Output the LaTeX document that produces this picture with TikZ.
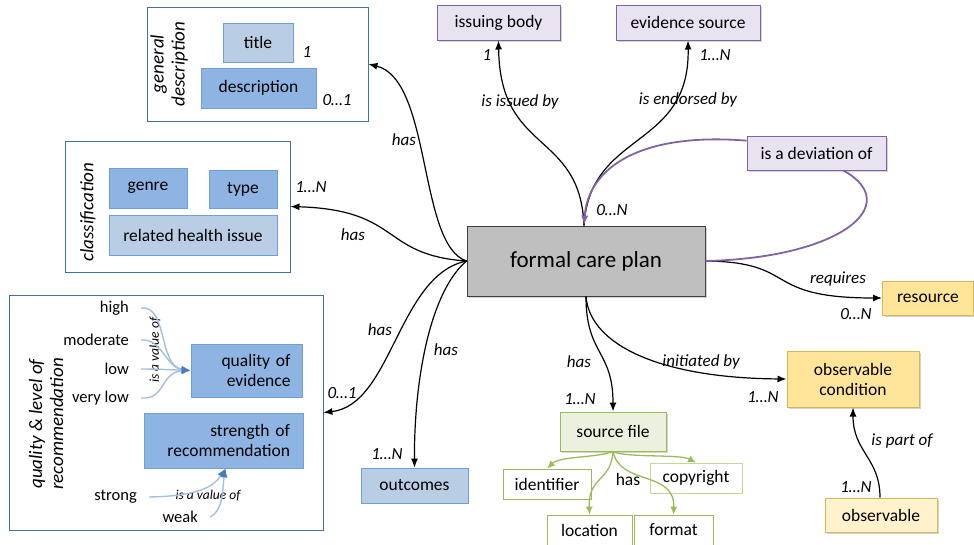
\documentclass[tikz,border=0pt]{standalone}
\usepackage{fontspec}
\setmainfont{Carlito}
\usetikzlibrary{arrows.meta,shadows}

\definecolor{grpline}{HTML}{41719C}
\definecolor{itemline}{HTML}{6F9FD8}
\definecolor{itemdark}{HTML}{8EB4E3}
\definecolor{itemlite}{HTML}{B9CDE5}
\definecolor{planfill}{HTML}{BFBFBF}
\definecolor{planline}{HTML}{3F3F3F}
\definecolor{lilacfill}{HTML}{E9E3F1}
\definecolor{lilacline}{HTML}{8064A2}
\definecolor{goldfill}{HTML}{FFE59A}
\definecolor{goldline}{HTML}{D6B656}
\definecolor{creamfill}{HTML}{FFF2CC}
\definecolor{greenfill}{HTML}{EBF1DE}
\definecolor{greenline}{HTML}{9BBB59}
\definecolor{palegreen}{HTML}{C3D69B}
\definecolor{valueline}{HTML}{A6BFDF}
\definecolor{valuetip}{HTML}{4A7EBB}

\tikzset{
    shade box/.style={drop shadow={opacity=0.35, shadow xshift=2pt, shadow yshift=-2pt}},
    grp/.style={draw=grpline, line width=0.9pt, fill=white, inner sep=0pt},
    grptitle/.style={font=\fontsize{19}{21}\selectfont\itshape, rotate=90, align=center},
    item/.style={draw=itemline, fill=itemdark, line width=0.8pt, inner sep=0pt,
        font=\fontsize{17.5}{20}\selectfont},
    liteitem/.style={item, fill=itemlite},
    plan/.style={draw=planline, fill=planfill, line width=1pt, shade box, inner sep=0pt,
        font=\fontsize{23}{27}\selectfont},
    lilac/.style={draw=lilacline, fill=lilacfill, line width=1pt, shade box, inner sep=0pt,
        font=\fontsize{17.5}{20}\selectfont},
    gold/.style={draw=goldline, fill=goldfill, line width=1pt, shade box, inner sep=0pt,
        align=center, font=\fontsize{17.5}{20}\selectfont},
    cream/.style={gold, fill=creamfill},
    green/.style={draw=greenline, fill=greenfill, line width=1pt, shade box, inner sep=0pt,
        font=\fontsize{17.5}{20}\selectfont},
    greenitem/.style={draw=greenline, fill=white, line width=0.8pt, inner sep=0pt,
        font=\fontsize{17.5}{20}\selectfont},
    value/.style={anchor=east, inner sep=0pt, font=\fontsize{16.5}{19}\selectfont},
    lbl/.style={inner sep=0pt, font=\fontsize{17}{20}\selectfont\itshape},
    rel/.style={draw=black, line width=1.2pt, -{Latex[length=9pt,width=7pt]}},
    devrel/.style={draw=lilacline, line width=1.8pt},
    valrel/.style={draw=valueline, line width=1.4pt, -{Latex[length=9pt,width=7pt,color=valuetip]}},
    filerel/.style={draw=greenline, line width=1.3pt, -{Latex[length=8pt,width=7pt]}}
}

\begin{document}
\begin{tikzpicture}[x=1pt, y=-1pt]
    \useasboundingbox (0,0) rectangle (974,544);

    % general description
    \node [grp, minimum width=221, minimum height=114] (gd) at (257.5,64) {};
    \node [grptitle] (gdtitle) at (169,64) {general\\description};
    \node [liteitem, minimum width=70, minimum height=39] (title) at (258,42.5) {title};
    \node [item, minimum width=115, minimum height=40] (desc) at (258.5,88) {description};
    \node [lbl] (titlem) at (307,52) {1};
    \node [lbl] (descm) at (337,100) {0…1};

    % classification
    \node [grp, minimum width=225, minimum height=131] (cls) at (177.5,206.5) {};
    \node [grptitle] (clstitle) at (88,212) {classification};
    \node [item, minimum width=78, minimum height=40] (genre) at (148,188) {genre};
    \node [item, minimum width=68, minimum height=38] (type) at (243,189) {type};
    \node [liteitem, minimum width=168, minimum height=40] (issue) at (193,235) {related health issue};

    % quality & level of recommendation
    \node [grp, minimum width=314, minimum height=235] (qual) at (166,412.5) {};
    \node [grptitle] (qualtitle) at (46,424) {quality \& level of\\recommendation};
    \node [item, minimum width=111, minimum height=53, align=right, text width=88]
        (qoe) at (246.5,370.5) {quality of\\evidence};
    \node [item, minimum width=159, minimum height=55, align=right, text width=133]
        (sor) at (223.5,440.5) {strength of\\recommendation};
    \node [value] (high) at (129,308) {high};
    \node [value] (moderate) at (129,340) {moderate};
    \node [value] (low) at (129,369) {low};
    \node [value] (verylow) at (129,398) {very low};
    \node [value] (strong) at (137,497) {strong};
    \node [value] (weak) at (198,517) {weak};
    \node [lbl, rotate=90, font=\fontsize{13.5}{15}\selectfont\itshape] (valof1) at (155,350) {is a value of};
    \node [lbl, font=\fontsize{13.5}{15}\selectfont\itshape] (valof2) at (208,496) {is a value of};

    \draw [valrel] ([xshift=12pt]high.east) .. controls (168,305) and (158,366) .. (qoe.west);
    \draw [valrel] ([xshift=12pt]moderate.east) .. controls (162,338) and (166,368) .. (qoe.west);
    \draw [valrel] ([xshift=12pt]low.east) .. controls (160,369) and (175,370) .. (qoe.west);
    \draw [valrel] ([xshift=12pt]verylow.east) .. controls (166,400) and (160,372) .. (qoe.west);
    \draw [valrel] ([xshift=12pt]strong.east) .. controls (200,496) and (214,486) .. ([xshift=2pt]sor.south);
    \draw [valrel] ([xshift=12pt]weak.east) .. controls (224,510) and (222,490) .. ([xshift=2pt]sor.south);

    % formal care plan
    \node [plan, minimum width=238, minimum height=70] (cp) at (586,261) {formal care plan};

    % issuers
    \node [lilac, minimum width=123, minimum height=35] (ib) at (498.5,22.5) {issuing body};
    \node [lilac, minimum width=144, minimum height=35] (es) at (688,22.5) {evidence source};
    \node [lilac, minimum width=139, minimum height=34] (dev) at (816.5,153) {is a deviation of};

    % conditions and resources
    \node [gold, minimum width=91, minimum height=34] (res) at (928,298) {resource};
    \node [gold, minimum width=132, minimum height=56] (oc) at (853,379) {observable\\condition};
    \node [cream, minimum width=112, minimum height=34] (obs) at (881,515) {observable};

    % source file
    \node [green, minimum width=106, minimum height=39] (sf) at (613,431.5) {source file};
    \node [greenitem, minimum width=88, minimum height=30] (idn) at (547,484) {identifier};
    \node [greenitem, draw=palegreen, minimum width=92, minimum height=30] (cpy) at (696,478) {copyright};
    \node [greenitem, minimum width=85, minimum height=30] (loc) at (589.5,530) {location};
    \node [greenitem, minimum width=79, minimum height=30] (fmt) at (673.5,530) {format};
    \node [inner sep=0pt, font=\fontsize{17.5}{20}\selectfont] (fhas) at (628,479) {has};

    \draw [filerel] (sf.south) .. controls (596,458) and (560,456) .. (idn.north);
    \draw [filerel] (sf.south) .. controls (626,458) and (680,454) .. (cpy.north);
    \draw [filerel] (sf.south) .. controls (611,482) and (588,476) .. (loc.north);
    \draw [filerel] (sf.south) .. controls (620,486) and (675,470) .. (fmt.north);

    % outcomes
    \node [liteitem, minimum width=107, minimum height=35] (out) at (414.5,485.5) {outcomes};

    % relations of the care plan
    \draw [rel] (cp.west) .. controls (418,245) and (432,80) .. (gd.east);
    \draw [rel] (cp.west) .. controls (380,255) and (402,210) .. (cls.east);
    \draw [rel] (cp.west) .. controls (398,275) and (392,405) .. (qual.east);
    \draw [rel] (cp.west) .. controls (430,292) and (414,380) .. (out.north);
    \draw [rel] ([xshift=-2pt]cp.north) .. controls (580,130) and (500,155) .. (ib.south);
    \draw [rel] ([xshift=-2pt]cp.north) .. controls (590,130) and (690,150) .. (es.south);
    \draw [rel] (cp.east) .. controls (800,262) and (760,298) .. (res.west);
    \draw [rel] (cp.south) .. controls (590,345) and (660,378) .. (oc.west);
    \draw [rel] (cp.south) .. controls (586,355) and (613,350) .. (sf.north);
    \draw [rel] ([xshift=-1pt]obs.north) .. controls (880,458) and (853,452) .. (oc.south);

    % deviation loop
    \draw [devrel] (cp.east) .. controls (840,258) and (905,205) .. ([xshift=27pt]dev.south);
    \draw [devrel, -{Latex[length=10pt,width=7pt]}] (dev.170) .. controls (640,132) and (588,168) .. ([xshift=-2pt]cp.north);

    % relation labels
    \node [lbl] (hasgd) at (404,140) {has};
    \node [lbl] (hascls) at (353,235) {has};
    \node [lbl] (clsm) at (311,187) {1…N};
    \node [lbl] (hasqual) at (380,330) {has};
    \node [lbl] (qualm) at (342,393) {0…1};
    \node [lbl] (hasout) at (446,350) {has};
    \node [lbl] (outm) at (387,454) {1…N};
    \node [lbl] (issued) at (520,102) {is issued by};
    \node [lbl] (ibm) at (487,55) {1};
    \node [lbl] (endorsed) at (688,100) {is endorsed by};
    \node [lbl] (esm) at (715,55) {1…N};
    \node [lbl] (devm) at (612,210) {0…N};
    \node [lbl] (requires) at (838,279) {requires};
    \node [lbl] (resm) at (856,314) {0…N};
    \node [lbl] (initiated) at (701,362) {initiated by};
    \node [lbl] (ocm) at (763,397) {1…N};
    \node [lbl] (partof) at (902,441) {is part of};
    \node [lbl] (obsm) at (856,487) {1…N};
    \node [lbl] (hassf) at (579,362) {has};
    \node [lbl] (sfm) at (580,399) {1…N};
\end{tikzpicture}
\end{document}
